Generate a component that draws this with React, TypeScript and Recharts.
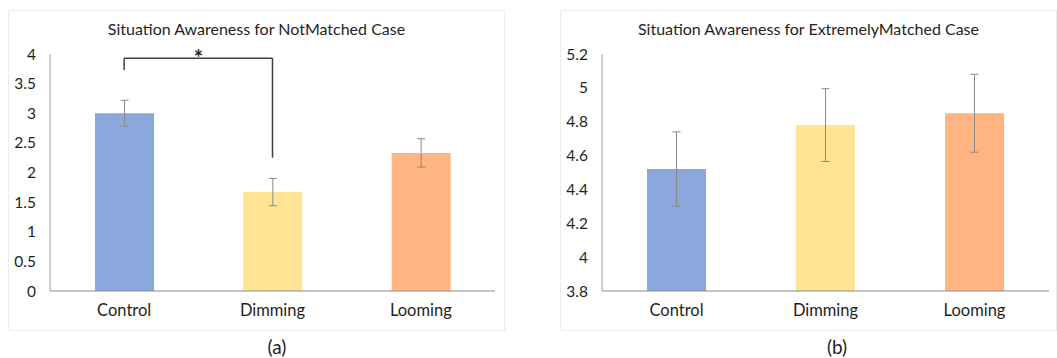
import { BarChart, Bar, XAxis, YAxis, Cell, ErrorBar, ReferenceLine } from "recharts";

const categories = ["Control", "Dimming", "Looming"];
const barColors = ["#8aa8dc", "#ffe495", "#ffb482"];

// (a) NotMatched
const notMatchedMeans = [3.0, 1.67, 2.33];
const notMatchedErrors = [0.22, 0.23, 0.24];
const notMatchedTicks = [0, 0.5, 1, 1.5, 2, 2.5, 3, 3.5, 4];

// (b) ExtremelyMatched
const extremeMeans = [4.52, 4.78, 4.85];
const extremeErrors = [0.22, 0.215, 0.23];
const extremeTicks = [3.8, 4, 4.2, 4.4, 4.6, 4.8, 5, 5.2];

// significance bracket (Control vs Dimming)
const bracketFrom = "Control";
const bracketTo = "Dimming";
const bracketTop = 3.93;
const bracketLeftEnd = 3.73;
const bracketRightEnd = 2.25;

const FONT = "Lato, 'Open Sans', sans-serif";
const W = 497;
const H = 321;

const build = (means: number[], errs: number[]) =>
    categories.map((c, i) => ({ name: c, value: means[i], err: errs[i] }));

function Panel({ title, data, ticks, domain, left, mr, children }: any) {
    return (
        <div style={{ position: "absolute", left, top: 10, width: W, height: H, border: "1px solid #ececec", boxSizing: "border-box" }}>
            <div style={{ position: "absolute", top: 8, width: "100%", textAlign: "center", fontFamily: FONT, fontSize: 16, color: "#1f1f1f" }}>
                {title}
            </div>
            <BarChart width={W - 2} height={H - 2} data={data} margin={{ top: 43, right: mr, left: 0, bottom: 9 }} barCategoryGap="30%">
                <XAxis dataKey="name" axisLine={{ stroke: "#8c8c8c" }} tickLine={false} tickSize={0} tickMargin={13} height={30}
                    tick={{ fontSize: 16.5, fill: "#1f1f1f", fontFamily: FONT }} />
                <YAxis type="number" domain={domain} ticks={ticks} interval={0} width={41} axisLine={{ stroke: "#a0a0a0" }}
                    tickLine={false} tickSize={0} tickMargin={14} tick={{ fontSize: 15.5, fill: "#1f1f1f", fontFamily: FONT }} allowDataOverflow />
                <Bar dataKey="value" isAnimationActive={false} barSize={59}>
                    {data.map((d: any, i: number) => <Cell key={d.name} fill={barColors[i]} />)}
                    <ErrorBar dataKey="err" width={4} stroke="#8a8a8a" strokeWidth={1} />
                </Bar>
                {children}
            </BarChart>
        </div>
    );
}

export default function App() {
    const dataA = build(notMatchedMeans, notMatchedErrors);
    const dataB = build(extremeMeans, extremeErrors);
    return (
        <div style={{ position: "absolute", left: 0, top: 0, width: 1057, height: 358, background: "#fff", overflow: "hidden" }}>
            <Panel title="Situation Awareness for NotMatched Case" data={dataA} ticks={notMatchedTicks} domain={[0, 4]} left={8} mr={9}>
                <ReferenceLine segment={[{ x: bracketFrom, y: bracketLeftEnd }, { x: bracketFrom, y: bracketTop }]} stroke="#404040" strokeWidth={1.5} />
                <ReferenceLine segment={[{ x: bracketTo, y: bracketRightEnd }, { x: bracketTo, y: bracketTop }]} stroke="#404040" strokeWidth={1.5} />
                <ReferenceLine segment={[{ x: bracketFrom, y: bracketTop }, { x: bracketTo, y: bracketTop }]} stroke="#404040" strokeWidth={1.5}
                    label={{ value: "*", position: "top", fontSize: 22, fontWeight: "bold", fill: "#1f1f1f", fontFamily: FONT, offset: -8 }} />
            </Panel>
            <Panel title="Situation Awareness for ExtremelyMatched Case" data={dataB} ticks={extremeTicks} domain={[3.8, 5.2]} left={560} mr={7} />
            <div style={{ position: "absolute", left: 252, top: 335, width: 50, textAlign: "center", fontFamily: FONT, fontSize: 19, color: "#1f1f1f" }}>(a)</div>
            <div style={{ position: "absolute", left: 812, top: 335, width: 50, textAlign: "center", fontFamily: FONT, fontSize: 19, color: "#1f1f1f" }}>(b)</div>
        </div>
    );
}
